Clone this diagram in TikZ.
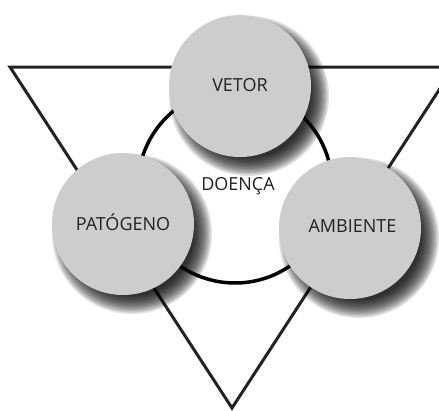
\documentclass[tikz,border=0pt]{standalone}
\usepackage{fontspec}
\setmainfont{Open Sans}
\usepackage{tikz}
\usetikzlibrary{shapes}
\usetikzlibrary{calc}
\usepackage{xcolor}
\definecolor{discgray}{HTML}{CDCDCD}
\definecolor{inkgray}{HTML}{222222}
\tikzset{
  % Common styles for the diagram
  disc/.style={circle, fill=discgray, minimum size=142pt, inner sep=0pt,
    font=\fontsize{18}{22}\selectfont, text=inkgray},
  triline/.style={draw=inkgray, line width=3pt, line join=miter},
  ring/.style={circle, draw=black, line width=3.5pt, minimum size=194pt, inner sep=0pt,
    font=\fontsize{18}{22}\selectfont, text=inkgray}
}

\begin{document}
\begin{tikzpicture}[x=1pt, y=-1pt]
    % Define styles
    \tikzstyle{shade} = [fill=black, opacity=0.11]

    \useasboundingbox (0,0) rectangle (439,410);

    % Corners and centres
    \coordinate (topleft) at (10,67);
    \coordinate (topright) at (454,67);
    \coordinate (bottom) at (232,408);
    \coordinate (cvetor) at (240,86);
    \coordinate (cpatogeno) at (123,224);
    \coordinate (cambiente) at (350,228);

    % Triangle and ring
    \draw [triline] (topleft) -- (topright) -- (bottom) -- cycle;
    \node [ring] (doenca) at (235,186) {\hspace*{6pt}\raisebox{-4pt}{DOENÇA}};

    % Soft shadows
    \foreach \c in {cvetor,cpatogeno,cambiente}
      \foreach \k in {0,...,13}
        \fill [shade] ($(\c)+(9,10)$) circle ({80-1.4*\k});

    % Place nodes
    \node [disc] (vetor) at (cvetor) {\raisebox{2pt}{VETOR}};
    \node [disc] (patogeno) at (cpatogeno) {\raisebox{3pt}{PATÓGENO}};
    \node [disc] (ambiente) at (cambiente) {\hspace*{5pt}\raisebox{3pt}{AMBIENTE}};
\end{tikzpicture}
\end{document}
